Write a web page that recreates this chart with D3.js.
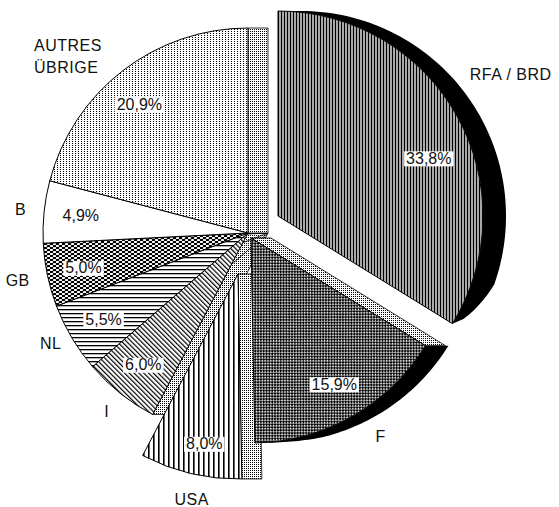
<!DOCTYPE html>
<html>
<head>
<meta charset="utf-8">
<script src="https://cdn.jsdelivr.net/npm/d3@7"></script>
<style>
  body { margin: 0; background: #fff; }
  svg text { font-family: "Liberation Sans", Arial, sans-serif; fill: #111; }
</style>
</head>
<body>
<div id="chart"></div>
<script>
// shares by country, clockwise from 12 o'clock
var countries = ["RFA / BRD", "F", "USA", "I", "NL", "GB", "B", "AUTRES\nÜBRIGE"];
var shares = [33.8, 15.9, 8.0, 6.0, 5.5, 5.0, 4.9, 20.9];
var shareLabels = ["33,8%", "15,9%", "8,0%", "6,0%", "5,5%", "5,0%", "4,9%", "20,9%"];

var width = 559, height = 507;
var cx = 248, cy = 233, r = 205;

// layout / style
var explode = {"RFA / BRD": 34, "F": 6, "USA": 42};
var fills = {"RFA / BRD": "rfa", "F": "chk", "USA": "vl", "I": "dg", "NL": "hl", "GB": "sc", "B": "wh", "AUTRES\nÜBRIGE": "dots"};
var depth = [20, 0];        // cut faces
var rimDepth = 23;          // black outer side
var taper = 12 * Math.PI / 180;
var pctNudge = {"RFA / BRD": [4, 24], "USA": [5, 6], "AUTRES\nÜBRIGE": [-6, 4]};
var nameNudge = {"RFA / BRD": [-3, -31], "F": [14, 0], "USA": [5, 3], "NL": [5, -6], "AUTRES\nÜBRIGE": [-10, 4]};

var svg = d3.select("#chart").append("svg")
    .attr("width", width)
    .attr("height", height);

var defs = svg.append("defs");

function pattern(id, w, h, rot) {
  var p = defs.append("pattern")
      .attr("id", id)
      .attr("patternUnits", "userSpaceOnUse")
      .attr("width", w)
      .attr("height", h);
  if (rot) p.attr("patternTransform", "rotate(" + rot + ")");
  return p;
}

// dense vertical lines on grey
var p = pattern("rfa", 3, 3);
p.append("rect").attr("width", 3).attr("height", 3).attr("fill", "#a9a9a9");
p.append("rect").attr("width", 1).attr("height", 3).attr("fill", "#000");

// fine diagonal checker
p = pattern("chk", 4, 4, 45);
p.append("rect").attr("width", 4).attr("height", 4).attr("fill", "#000");
p.append("rect").attr("width", 1.7).attr("height", 1.7).attr("fill", "#fff");
p.append("rect").attr("x", 2).attr("y", 2).attr("width", 1.7).attr("height", 1.7).attr("fill", "#fff");

// vertical lines
p = pattern("vl", 5, 5);
p.append("rect").attr("width", 5).attr("height", 5).attr("fill", "#fff");
p.append("rect").attr("width", 1.6).attr("height", 5).attr("fill", "#000");

// diagonal lines "\"
p = pattern("dg", 3.4, 4, -45);
p.append("rect").attr("width", 3.4).attr("height", 4).attr("fill", "#fff");
p.append("rect").attr("width", 1.2).attr("height", 4).attr("fill", "#000");

// horizontal lines
p = pattern("hl", 4, 4);
p.append("rect").attr("width", 4).attr("height", 4).attr("fill", "#fff");
p.append("rect").attr("width", 4).attr("height", 1.3).attr("fill", "#000");

// scales
p = pattern("sc", 6, 4);
p.append("rect").attr("width", 6).attr("height", 4).attr("fill", "#000");
p.append("ellipse").attr("cx", 1.5).attr("cy", 1).attr("rx", 1.7).attr("ry", 1.1).attr("fill", "#fff");
p.append("ellipse").attr("cx", 4.5).attr("cy", 3).attr("rx", 1.7).attr("ry", 1.1).attr("fill", "#fff");

p = pattern("wh", 4, 4);
p.append("rect").attr("width", 4).attr("height", 4).attr("fill", "#fff");

// dotted columns
p = pattern("dots", 3, 2);
p.append("rect").attr("width", 3).attr("height", 2).attr("fill", "#fff");
p.append("rect").attr("x", 1).attr("width", 1).attr("height", 1).attr("fill", "#000");

// stipple for the cut faces
p = pattern("face", 2, 2);
p.append("rect").attr("width", 2).attr("height", 2).attr("fill", "#fff");
p.append("rect").attr("width", 1).attr("height", 1).attr("fill", "#000");

var pie = d3.pie().sort(null).value(function(d) { return d; });
var arcGen = d3.arc().innerRadius(0).outerRadius(r);
var line = d3.line();

var arcs = pie(shares);
arcs.forEach(function(d, i) {
  d.name = countries[i];
  d.pct = shareLabels[i];
  d.mid = (d.startAngle + d.endAngle) / 2;
  var e = explode[d.name] || 0;
  d.exploded = e > 0;
  d.ax = Math.round(cx + e * Math.sin(d.mid));
  d.ay = Math.round(cy - e * Math.cos(d.mid));
});

function faces(g, d) {
  [[d.startAngle, -1], [d.endAngle, 1]].forEach(function(e) {
    var a = e[0];
    var n = e[1] < 0 ? [-Math.cos(a), -Math.sin(a)] : [Math.cos(a), Math.sin(a)];
    if (depth[0] * n[0] + depth[1] * n[1] <= 0.5) return;
    var px = r * Math.sin(a), py = -r * Math.cos(a);
    g.append("path")
        .attr("d", line([[0, 0], [px, py], [px + depth[0], py + depth[1]], [depth[0], depth[1]]]) + "Z")
        .attr("fill", "url(#face)")
        .attr("stroke", "#000")
        .attr("stroke-width", 0.8);
  });
}

function rim(g, d) {
  var a0 = Math.max(d.startAngle, 0), a1 = Math.min(d.endAngle, Math.PI);
  if (!d.exploded || a1 <= a0) return;
  var inner = [], outer = [];
  for (var k = 0; k <= 80; k++) {
    var a = a0 + (a1 - a0) * k / 80;
    var h = rimDepth * Math.sqrt(Math.min(1, (d.endAngle - a) / taper));
    var x = r * Math.sin(a), y = -r * Math.cos(a);
    inner.push([x, y]);
    outer.push([x + h, y]);
  }
  g.append("path")
      .attr("d", line(inner.concat(outer.reverse())) + "Z")
      .attr("fill", "#000");
}

function topFace(g, d) {
  g.append("path")
      .attr("d", arcGen(d))
      .attr("fill", "url(#" + fills[d.name] + ")")
      .attr("stroke", "#000")
      .attr("stroke-width", 1);
}

var chart = svg.append("g");

// unexploded part first
var main = arcs.filter(function(d) { return !d.exploded; });
var gm = chart.append("g").attr("transform", "translate(" + cx + "," + cy + ")");
main.forEach(function(d) { faces(gm, d); });
main.forEach(function(d) { topFace(gm, d); });

// pulled-out slices, back to front
arcs.filter(function(d) { return d.exploded; }).reverse().forEach(function(d) {
  var g = chart.append("g").attr("transform", "translate(" + d.ax + "," + d.ay + ")");
  faces(g, d);
  rim(g, d);
  topFace(g, d);
});

// percentage labels
var lab = svg.append("g").attr("font-size", 16);
arcs.forEach(function(d) {
  var nd = pctNudge[d.name] || [0, 0];
  var x = d.ax + 0.82 * r * Math.sin(d.mid) + nd[0];
  var y = d.ay - 0.82 * r * Math.cos(d.mid) + nd[1];
  var t = lab.append("text")
      .attr("x", x)
      .attr("y", y)
      .attr("dy", "0.36em")
      .attr("text-anchor", "middle")
      .text(d.pct);
  var b = t.node().getBBox();
  lab.insert("rect", function() { return t.node(); })
      .attr("x", b.x - 2)
      .attr("y", b.y + 1.5)
      .attr("width", b.width + 4)
      .attr("height", b.height - 2)
      .attr("fill", "#fff");
});

// country names
var names = svg.append("g").attr("font-size", 16).attr("letter-spacing", 0.5);
arcs.forEach(function(d) {
  var nd = nameNudge[d.name] || [0, 0];
  var s = Math.sin(d.mid), c = Math.cos(d.mid);
  var x = d.ax + (r + 18) * s + nd[0];
  var y = d.ay - (r + 18) * c - c * 5 + nd[1];
  var lines = d.name.split("\n");
  var t = names.append("text").attr("y", y);
  lines.forEach(function(l, j) {
    t.append("tspan")
        .attr("x", 0)
        .attr("y", y + (j - (lines.length - 1) / 2) * 22)
        .attr("dy", "0.36em")
        .text(l);
  });
  var w = t.node().getBBox().width;
  var x0 = s > 0.3 ? x : (s < -0.3 ? x - w : x - w / 2);
  t.selectAll("tspan").attr("x", x0);
});
</script>
</body>
</html>
